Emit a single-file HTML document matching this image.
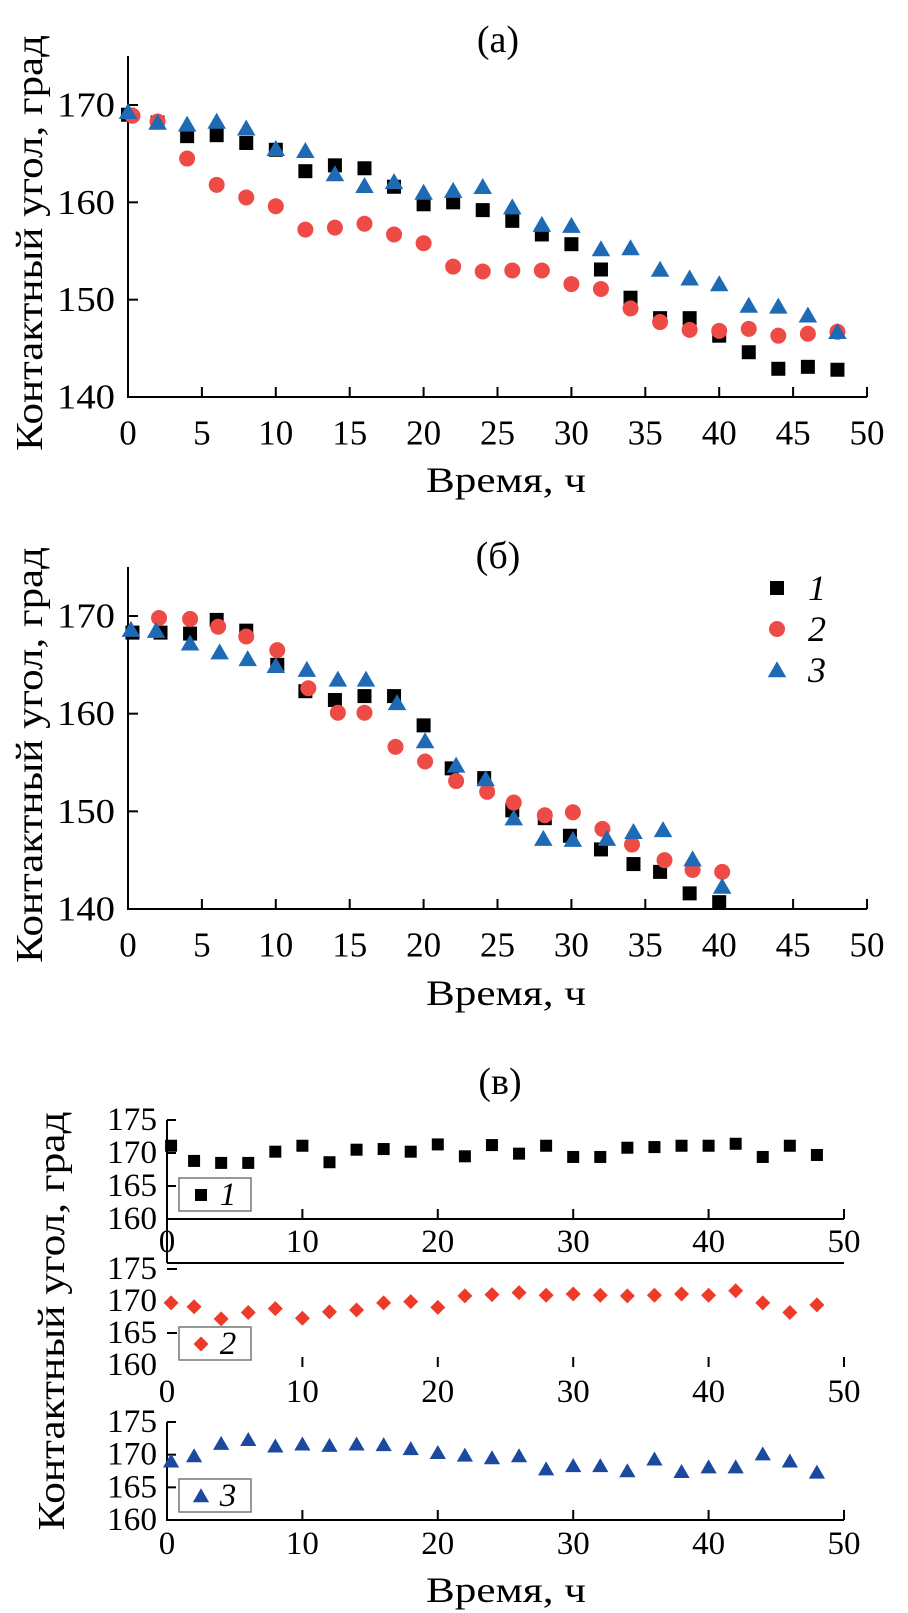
<!DOCTYPE html>
<html><head><meta charset="utf-8">
<style>
html,body{margin:0;padding:0;background:#fff;}
svg{display:block;font-family:"Liberation Serif",serif;}
</style></head>
<body>
<svg id="chart" width="908" height="1613" viewBox="0 0 908 1613" xmlns="http://www.w3.org/2000/svg"></svg>
<script>
// ---------- data ----------
const xTicksAB = [0,5,10,15,20,25,30,35,40,45,50];
const yTicksAB = [140,150,160,170];
const xTicksC = [0,10,20,30,40,50];
const yTicksC = [160,165,170,175];

const aX1 = [0,2,4,6,8,10,12,14,16,18,20,22,24,26,28,30,32,34,36,38,40,42,44,46,48];
const aY1 = [169,168.2,166.8,166.9,166.1,165.4,163.2,163.8,163.5,161.6,159.8,160,159.2,158.1,156.7,155.7,153.1,150.2,148.1,148.1,146.3,144.6,142.9,143.1,142.8];
const aX2 = [0.3,2,4,6,8,10,12,14,16,18,20,22,24,26,28,30,32,34,36,38,40,42,44,46,48];
const aY2 = [168.9,168.3,164.5,161.8,160.5,159.6,157.2,157.4,157.8,156.7,155.8,153.4,152.9,153,153,151.6,151.1,149.1,147.7,146.9,146.8,147,146.3,146.5,146.7];
const aX3 = [0,2,4,6,8,10,12,14,16,18,20,22,24,26,28,30,32,34,36,38,40,42,44,46,48];
const aY3 = [169.3,168.2,168,168.3,167.6,165.5,165.3,162.9,161.7,162.1,161,161.2,161.6,159.5,157.7,157.6,155.2,155.3,153.1,152.2,151.6,149.4,149.3,148.4,146.7];

const bX1 = [0.3,2.2,4.2,6,8,10.1,12,14,16,18,20,21.9,24.1,26,28.2,29.9,32,34.2,36,38,40];
const bY1 = [168.3,168.3,168.2,169.6,168.5,165,162.3,161.4,161.8,161.8,158.8,154.4,153.4,150.1,149.3,147.5,146.1,144.6,143.8,141.6,140.7];
const bX2 = [2.1,4.2,6.1,8,10.1,12.2,14.2,16,18.1,20.1,22.2,24.3,26.1,28.2,30.1,32.1,34.1,36.3,38.2,40.2];
const bY2 = [169.8,169.7,168.9,167.9,166.5,162.6,160.1,160.1,156.6,155.1,153.1,152,150.9,149.6,149.9,148.2,146.6,145,144,143.8];
const bX3 = [0.2,1.9,4.2,6.2,8.1,10,12.1,14.2,16.1,18.2,20.1,22.2,24.2,26.1,28.1,30.1,32.4,34.2,36.2,38.2,40.2];
const bY3 = [168.6,168.5,167.2,166.3,165.6,164.9,164.5,163.5,163.5,161.1,157.2,154.7,153.3,149.3,147.2,147.1,147.2,147.9,148.1,145.1,142.3];

const cX = [0.3,2,4,6,8,10,12,14,16,18,20,22,24,26,28,30,32,34,36,38,40,42,44,46,48];
const cY1 = [171.1,168.8,168.5,168.5,170.2,171.1,168.6,170.5,170.6,170.2,171.3,169.5,171.2,169.9,171.1,169.4,169.4,170.8,170.9,171.1,171.1,171.4,169.4,171.1,169.7];
const cY2 = [169.7,169.1,167.2,168.2,168.8,167.3,168.3,168.6,169.7,169.9,169,170.8,171,171.3,170.9,171.1,170.9,170.8,170.9,171.1,170.9,171.6,169.7,168.2,169.4];
const cY3 = [169,169.8,171.7,172.3,171.3,171.6,171.4,171.6,171.5,170.9,170.3,169.9,169.5,169.8,167.8,168.3,168.3,167.5,169.3,167.4,168.1,168.1,170.1,169,167.3];

// ---------- helpers ----------
const NS = "http://www.w3.org/2000/svg";
const svg = document.getElementById('chart');
function mk(tag, attrs, parent){
  const e = document.createElementNS(NS, tag);
  for (const k in attrs) e.setAttribute(k, attrs[k]);
  (parent||svg).appendChild(e);
  return e;
}
function txt(s, x, y, size, anchor, parent, extra){
  const t = mk('text', Object.assign({x:x, y:y, 'font-size':size, 'text-anchor':anchor||'middle', 'dominant-baseline':'central', fill:'#000'}, extra||{}), parent);
  t.textContent = s;
  return t;
}
function line(x1,y1,x2,y2,parent,w){
  return mk('line',{x1:x1,y1:y1,x2:x2,y2:y2,stroke:'#000','stroke-width':w||2},parent);
}
function marker(kind, cx, cy, s, color, parent){
  let e;
  if (kind==='square') e = mk('rect',{x:cx-s/2,y:cy-s/2,width:s,height:s,fill:color},parent);
  else if (kind==='circle') e = mk('circle',{cx:cx,cy:cy,r:s/2,fill:color},parent);
  else if (kind==='triangle') e = mk('polygon',{points:`${cx},${cy-s*0.55} ${cx-s*0.58},${cy+s*0.45} ${cx+s*0.58},${cy+s*0.45}`,fill:color},parent);
  else e = mk('polygon',{points:`${cx},${cy-s/2} ${cx+s/2},${cy} ${cx},${cy+s/2} ${cx-s/2},${cy}`,fill:color},parent);
  return e;
}
function scale(d0,d1,r0,r1){ return v => r0 + (v-d0)*(r1-r0)/(d1-d0); }

// ---------- panels a & b ----------
function panelAB(name, title, yTop, y140, y170, titleY, xlabY, ylabY, series, legend){
  const g = mk('g',{});
  
  
  const X = scale(0,50,128,867);
  const Y = scale(140,170,y140,y170);
  const tt = txt(title, 498, titleY, 38, 'middle', g);
  
  
  const ax = line(128,y140,867,y140,g);
  
  
  const ay = line(128,yTop,128,y140+1,g);
  
  
  xTicksAB.forEach(v=>{
    if (v>0) line(X(v),y140,X(v),y140-10,g);
    const t = txt(String(v), X(v), y140+36, 35, 'middle', g);
    
    
  });
  yTicksAB.forEach(v=>{
    if (v>140) line(128,Y(v),138,Y(v),g);
    const t = txt(String(v), 115, Y(v), 35, 'end', g, {textLength:58, lengthAdjust:'spacingAndGlyphs'});
    
    
  });
  const xl = txt('Время, ч', 506, xlabY, 36, 'middle', g, {textLength:160, lengthAdjust:'spacingAndGlyphs'});
  
  
  const yl = txt('Контактный угол, град', 0, 0, 38, 'middle', g, {transform:`translate(30,${ylabY}) rotate(-90)`, textLength:416, lengthAdjust:'spacingAndGlyphs'});
  
  
  series.forEach(s=>{
    const sg = mk('g',{},g);
    
    
    s.xs.forEach((xv,i)=>{
      const m = marker(s.kind, X(xv), Y(s.ys[i]), s.size, s.color, sg);
      
      
    });
  });
  if (legend){
    series.forEach((s,i)=>{
      const ly = 588 + i*41;
      const lg = mk('g',{},g);
      
      
      marker(s.kind, 777, ly, s.size, s.color, lg);
      txt(s.id, 817, ly, 36, 'middle', lg, {'font-style':'italic'});
    });
  }
}
const BLK='#000', RED='#ef4b46', BLU='#1f6ab4';
panelAB('panel-a','(а)',56,397,105,40,480,243,[
  {id:'1',xs:aX1,ys:aY1,kind:'square',size:14,color:BLK},
  {id:'2',xs:aX2,ys:aY2,kind:'circle',size:16,color:RED},
  {id:'3',xs:aX3,ys:aY3,kind:'triangle',size:16,color:BLU}
], false);
panelAB('panel-b','(б)',567,909,616,556,993,755,[
  {id:'1',xs:bX1,ys:bY1,kind:'square',size:14,color:BLK},
  {id:'2',xs:bX2,ys:bY2,kind:'circle',size:16,color:RED},
  {id:'3',xs:bX3,ys:bY3,kind:'triangle',size:16,color:BLU}
], true);

// ---------- panel c ----------
const gc = mk('g',{});


const XC = scale(0,50,167,844);
const tc = txt('(в)', 500, 1082, 38, 'middle', gc);


const ylc = txt('Контактный угол, град', 0, 0, 38, 'middle', gc, {transform:'translate(52,1321) rotate(-90)', textLength:419, lengthAdjust:'spacingAndGlyphs'});


const xlc = txt('Время, ч', 506, 1590, 36, 'middle', gc, {textLength:160, lengthAdjust:'spacingAndGlyphs'});



function sub(id, y175, y160, xlabY, ys, kind, size, color, mode, boxTop){
  const g = mk('g',{},gc);
  
  
  const Y = scale(160,175,y160,y175);
  if (mode==='full' || mode==='framed'){
    line(167,y160,844,y160,g);
    line(167,y175,167,mode==='framed'?1263:y160+1,g);
    if (mode==='framed') line(167,1263,844,1263,g);
    yTicksC.forEach(v=>{ if (v>160) line(167,Y(v),176,Y(v),g); });
    xTicksC.forEach(v=>{ if (v>0) line(XC(v),y160,XC(v),y160-10,g); });
  } else {
    [175,165].forEach(v=>line(167,Y(v),177,Y(v),g));
    xTicksC.forEach(v=>{ if (v>0) line(XC(v),y160-8,XC(v),y160+2,g); });
  }
  yTicksC.forEach(v=>{
    const t = txt(String(v), 157, Y(v), 33, 'end', g, {textLength:50, lengthAdjust:'spacingAndGlyphs'});
    
    
  });
  xTicksC.forEach(v=>{
    const t = txt(String(v), XC(v), xlabY, 33, 'middle', g);
    
    
  });
  const box = mk('rect',{x:179,y:boxTop,width:72,height:33,fill:'#fff',stroke:'#777','stroke-width':1.5},g);
  
  
  marker(kind, 201, boxTop+17, size, color, g);
  txt(id, 228, boxTop+17, 33, 'middle', g, {'font-style':'italic'});
  const sg = mk('g',{},g);
  
  
  cX.forEach((xv,i)=>{
    const m = marker(kind, XC(xv), Y(ys[i]), size, color, sg);
    
    
  });
}
sub('1',1120,1219,1242,cY1,'square',12,'#000','framed',1178);
sub('2',1269,1365,1392,cY2,'diamond',15,'#ee3a28','ticks',1327);
sub('3',1422,1520,1544,cY3,'triangle',14,'#1c49a0','full',1479);
</script>
</body></html>
